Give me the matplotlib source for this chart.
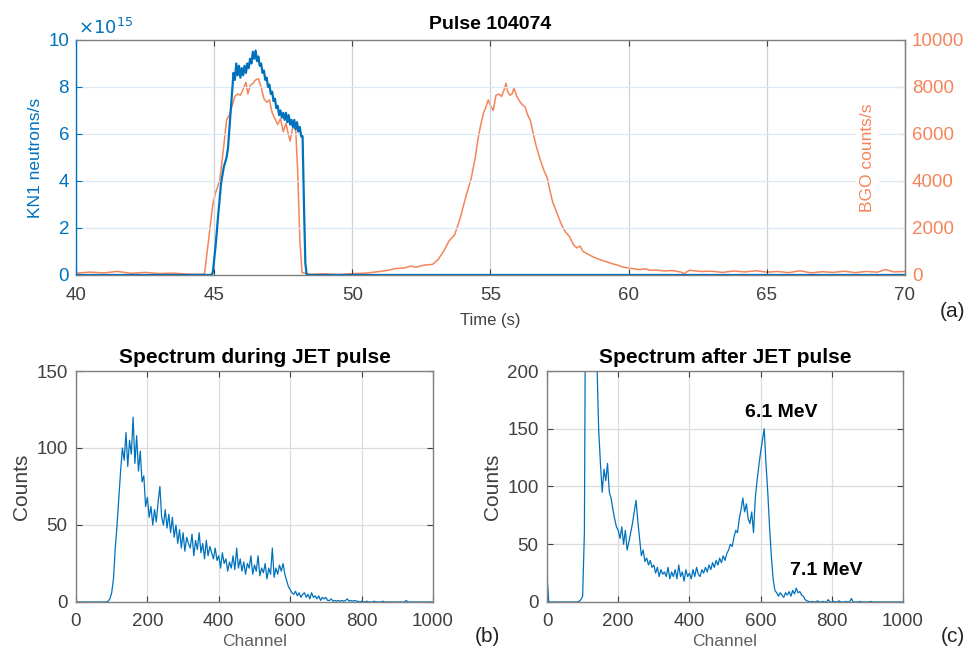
import numpy as np
import matplotlib
matplotlib.use("Agg")
import matplotlib.pyplot as plt

plt.rcParams["font.family"] = ["Liberation Sans", "DejaVu Sans"]

BLUE = "#0072BD"
ORANGE = "#F4845A"
GRAY = "#404040"

# KN1 neutron rate (units of 1e15 n/s)
kn1_t = [40.0, 44.9, 44.95, 45.05, 45.15, 45.25, 45.35, 45.45, 45.5, 45.55, 45.6, 45.65,
         45.7, 45.75, 45.8, 45.85, 45.9, 45.95, 46.0, 46.05, 46.1, 46.15, 46.2, 46.25,
         46.3, 46.35, 46.4, 46.45, 46.5, 46.55, 46.6, 46.65, 46.7, 46.75, 46.8, 46.85,
         46.9, 46.95, 47.0, 47.05, 47.1, 47.15, 47.2, 47.25, 47.3, 47.35, 47.4, 47.45,
         47.5, 47.55, 47.6, 47.65, 47.7, 47.75, 47.8, 47.85, 47.9, 47.95, 48.0, 48.05,
         48.1, 48.15, 48.2, 48.25, 48.3, 48.35, 70.0]
kn1_v = [0, 0, 0.1, 1.2, 2.6, 3.9, 4.6, 5.0, 5.4, 6.2, 7.0, 7.8,
         8.6, 8.3, 9.0, 8.5, 8.9, 8.4, 8.8, 8.5, 8.9, 8.6, 9.0, 8.8,
         9.2, 9.0, 9.5, 9.2, 9.55, 9.1, 9.3, 8.9, 9.0, 8.6, 8.7, 8.3,
         8.4, 8.0, 8.1, 7.7, 7.8, 7.4, 7.5, 7.1, 7.2, 6.8, 7.0, 6.7,
         6.9, 6.6, 6.9, 6.5, 6.8, 6.4, 6.6, 6.3, 6.6, 6.2, 6.5, 6.1,
         6.3, 5.9, 5.9, 3.0, 0.5, 0, 0]

# BGO count rate (counts/s)
bgo_t = [40.0, 40.5, 41.0, 41.5, 42.0, 42.5, 43.0, 43.5, 44.0, 44.5, 44.65, 44.8,
         44.95, 45.05, 45.2, 45.35, 45.45, 45.55, 45.65, 45.75, 45.85, 45.95, 46.05,
         46.15, 46.22, 46.3, 46.4, 46.5, 46.6, 46.7, 46.8, 46.9, 47.0, 47.1, 47.2,
         47.3, 47.4, 47.5, 47.6, 47.68, 47.75, 47.85, 47.95, 48.02, 48.1, 48.18, 48.5,
         49.0, 49.5, 50.0, 50.5, 51.0, 51.3, 51.6, 51.9, 52.1, 52.3, 52.6, 52.9,
         53.1, 53.3, 53.5, 53.7, 53.9, 54.1, 54.3, 54.45, 54.55, 54.65, 54.75, 54.85,
         54.92, 55.0, 55.1, 55.2, 55.3, 55.4, 55.5, 55.56, 55.62, 55.7, 55.78, 55.85,
         55.95, 56.05, 56.15, 56.25, 56.35, 56.45, 56.55, 56.65, 56.8, 56.95, 57.05,
         57.15, 57.25, 57.4, 57.55, 57.7, 57.85, 58.0, 58.12, 58.24, 58.35, 58.5,
         58.7, 58.85, 59.0, 59.2, 59.4, 59.6, 59.8, 60.0, 60.2, 60.4, 60.6, 60.8,
         61.0, 61.3, 61.6, 61.9, 62.0, 62.2, 62.6, 63.0, 63.4, 63.8, 64.2, 64.6,
         65.0, 65.4, 65.8, 66.2, 66.6, 67.0, 67.4, 67.8, 68.2, 68.6, 69.0, 69.3,
         69.6, 70.0]
bgo_v = [80, 120, 90, 150, 70, 110, 60, 80, 40, 30, 50, 1500,
         3000, 3500, 4000, 5500, 6600, 6800, 7200, 7600, 7700, 7650, 7900,
         8200, 7700, 8050, 8150, 8300, 8350, 8000, 7500, 7350, 7450, 6900, 6650,
         6400, 6650, 6100, 6450, 6000, 5700, 6300, 6200, 4500, 1500, 100, 30,
         50, 20, 60, 80, 150, 200, 280, 300, 380, 330, 420, 450,
         650, 1000, 1450, 1700, 2400, 3300, 4100, 5000, 5800, 6400, 6900, 7200,
         7450, 7200, 7000, 7650, 7700, 7600, 7900, 8160, 7800, 7650, 7700, 7950,
         7600, 7400, 7250, 7150, 6800, 6550, 6000, 5500, 4900, 4400, 4150,
         3600, 3100, 2650, 2200, 1850, 1650, 1300, 1150, 1230, 1000, 900,
         780, 700, 640, 560, 480, 420, 330, 300, 260, 230, 260, 200,
         210, 170, 190, 120, 60, 200, 150, 160, 110, 170, 130, 180,
         120, 150, 100, 180, 90, 140, 110, 160, 100, 150, 120, 230,
         130, 150]

# spectrum during the pulse, every 5 channels from 0 to 1000
counts_during = [
    0, 0, 0, 0, 0, 0, 0, 0, 0, 0, 0, 0, 0, 0, 0, 0, 0, 0,
    0.5, 2, 6, 15, 35, 50, 68, 85, 100, 92, 110, 88, 105, 96, 120, 90, 108, 85, 98, 78, 82, 62,
    68, 55, 62, 50, 60, 52, 65, 75, 55, 50, 60, 48, 57, 45, 55, 42, 50, 38, 47, 35,
    45, 33, 42, 38, 35, 44, 30, 40, 34, 45, 32, 38, 28, 40, 30, 36, 32, 28, 35, 27,
    30, 22, 32, 25, 28, 20, 26, 22, 30, 21, 35, 22, 28, 20, 26, 18, 25, 22, 30, 18,
    24, 20, 30, 17, 22, 19, 25, 15, 22, 18, 35, 16, 22, 18, 24, 20, 25, 18, 14, 10,
    8, 6, 5, 7, 4, 6, 3, 5, 6, 3, 5, 2, 6, 3, 4, 2, 4, 1, 3, 2,
    3, 1, 1, 2, 0.5, 1, 0.5, 1, 0.5, 1, 0.5, 1, 2, 0.5, 1, 0.5, 1, 0.5, 0.5, 0,
    0.5, 0, 0, 0.5, 0, 0, 0, 0.5, 0, 0, 0, 0, 0.5, 0, 0, 0, 0, 0, 0, 0,
    0, 0, 0, 0, 0, 1, 0, 0, 0, 0, 0, 0, 0, 0, 0, 0, 0, 0, 0, 0, 0]

# spectrum after the pulse, every 5 channels from 0 to 1000
counts_after = [
    22, 0, 0, 0, 0, 0, 0, 0, 0, 0, 0, 0, 0, 0, 0, 0, 0, 0,
    0.5, 2, 5, 60, 400, 900, 1200, 1100, 900, 500, 210, 150, 120, 95, 115, 105, 120, 95, 90, 80, 72, 65,
    62, 55, 65, 50, 62, 45, 52, 60, 68, 78, 88, 70, 55, 40, 45, 35, 38, 32, 36, 30,
    32, 25, 30, 22, 28, 24, 26, 22, 30, 20, 26, 22, 28, 20, 32, 22, 26, 18, 28, 22,
    25, 20, 28, 22, 30, 24, 22, 28, 25, 30, 26, 32, 28, 34, 30, 36, 32, 38, 34, 40,
    36, 42, 45, 50, 48, 56, 62, 60, 72, 80, 90, 78, 85, 72, 68, 78, 60, 90, 105, 118,
    130, 140, 150, 120, 95, 65, 40, 20, 10, 8, 5, 8, 6, 4, 8, 6, 9, 5, 10, 7,
    12, 8, 9, 6, 5, 2, 1, 0.5, 0, 0.5, 0, 0, 1, 0, 0, 0.5, 0, 0, 2, 0,
    0, 0.5, 0, 0, 1, 0, 0, 0, 0.5, 0, 0, 3, 0, 0, 0, 0, 0.5, 0, 0, 0,
    0, 0, 0.5, 0, 0, 0, 0, 0, 0, 0, 0, 0, 0, 0, 0, 0, 0, 0, 0, 0, 0]

channels = np.arange(0, 1001, 5)


def style_axes(ax, grid_h="#dcdcdc", grid_v="#dcdcdc"):
    ax.tick_params(direction="in", length=4, labelsize=13.5, colors=GRAY,
                   top=True, right=True, pad=6)
    for sp in ax.spines.values():
        sp.set_color("#808080")
        sp.set_linewidth(1.0)
    ax.xaxis.grid(True, color=grid_v, linewidth=0.9)
    ax.yaxis.grid(True, color=grid_h, linewidth=0.9)
    ax.set_axisbelow(True)


fig = plt.figure(figsize=(9.68, 6.51), dpi=100)

# top panel
ax = fig.add_axes([0.0785, 0.5776, 0.8564, 0.361])
style_axes(ax, grid_h="#dce8f4", grid_v="#cfd0d8")
ax.plot(kn1_t, kn1_v, color=BLUE, linewidth=1.6, zorder=3)
ax.set_xlim(40, 70)
ax.set_ylim(0, 10)
ax.set_xticks(range(40, 71, 5))
ax.set_yticks(range(0, 11, 2))
ax.tick_params(axis="y", colors=BLUE, right=False, pad=5)
ax.tick_params(axis="x", colors=GRAY, pad=9)
ax.spines["left"].set_color(BLUE)
ax.set_ylabel("KN1 neutrons/s", color=BLUE, fontsize=12.5, labelpad=4)
ax.set_xlabel("Time (s)", color=GRAY, fontsize=12, labelpad=6)
ax.set_title("Pulse 104074", fontsize=14, fontweight="bold", pad=8)
ax.text(0.002, 1.01, r"$\times10^{15}$", transform=ax.transAxes, color=BLUE,
        fontsize=13, ha="left", va="bottom")
ax.text(0.955, 0.5, "BGO counts/s", transform=ax.transAxes, rotation=90,
        color=ORANGE, fontsize=12.5, ha="center", va="center", zorder=5,
        bbox=dict(facecolor="white", edgecolor="none", pad=3))

ax2 = ax.twinx()
ax2.plot(bgo_t, bgo_v, color=ORANGE, linewidth=1.1, zorder=2)
ax2.set_ylim(0, 10000)
ax2.set_yticks(range(0, 10001, 2000))
ax2.tick_params(axis="y", direction="in", length=4, labelsize=13.5, colors=ORANGE, pad=5)
for sp in ax2.spines.values():
    sp.set_visible(False)
ax2.spines["right"].set_visible(True)
ax2.spines["right"].set_color(ORANGE)
ax.set_zorder(ax2.get_zorder() + 1)
ax.patch.set_visible(False)

fig.text(0.997, 0.521, "(a)", fontsize=15, ha="right", va="center", color="#222222")

# bottom-left panel
axb = fig.add_axes([0.0785, 0.0753, 0.3688, 0.3548])
style_axes(axb)
axb.plot(channels, counts_during, color=BLUE, linewidth=0.9)
axb.set_xlim(0, 1000)
axb.set_ylim(0, 150)
axb.set_xticks(range(0, 1001, 200))
axb.set_yticks([0, 50, 100, 150])
axb.tick_params(axis="x", pad=8)
axb.set_xlabel("Channel", color="#606060", fontsize=12.5, labelpad=3)
axb.set_ylabel("Counts", color=GRAY, fontsize=15, labelpad=4)
axb.set_title("Spectrum during JET pulse", fontsize=15, fontweight="bold", pad=6)
fig.text(0.517, 0.022, "(b)", fontsize=15, ha="right", va="center", color="#222222")

# bottom-right panel
axc = fig.add_axes([0.5651, 0.0753, 0.3678, 0.3548])
style_axes(axc)
axc.plot(channels, counts_after, color=BLUE, linewidth=0.9)
axc.set_xlim(0, 1000)
axc.set_ylim(0, 200)
axc.set_xticks(range(0, 1001, 200))
axc.set_yticks([0, 50, 100, 150, 200])
axc.tick_params(axis="x", pad=8)
axc.set_xlabel("Channel", color="#606060", fontsize=12.5, labelpad=3)
axc.set_ylabel("Counts", color=GRAY, fontsize=15, labelpad=4)
axc.set_title("Spectrum after JET pulse", fontsize=15, fontweight="bold", pad=6)
axc.text(657, 164, "6.1 MeV", fontsize=14, fontweight="bold", ha="center", va="center")
axc.text(784, 27, "7.1 MeV", fontsize=14, fontweight="bold", ha="center", va="center")
fig.text(0.997, 0.022, "(c)", fontsize=15, ha="right", va="center", color="#222222")

fig.savefig("out.png", dpi=100)
